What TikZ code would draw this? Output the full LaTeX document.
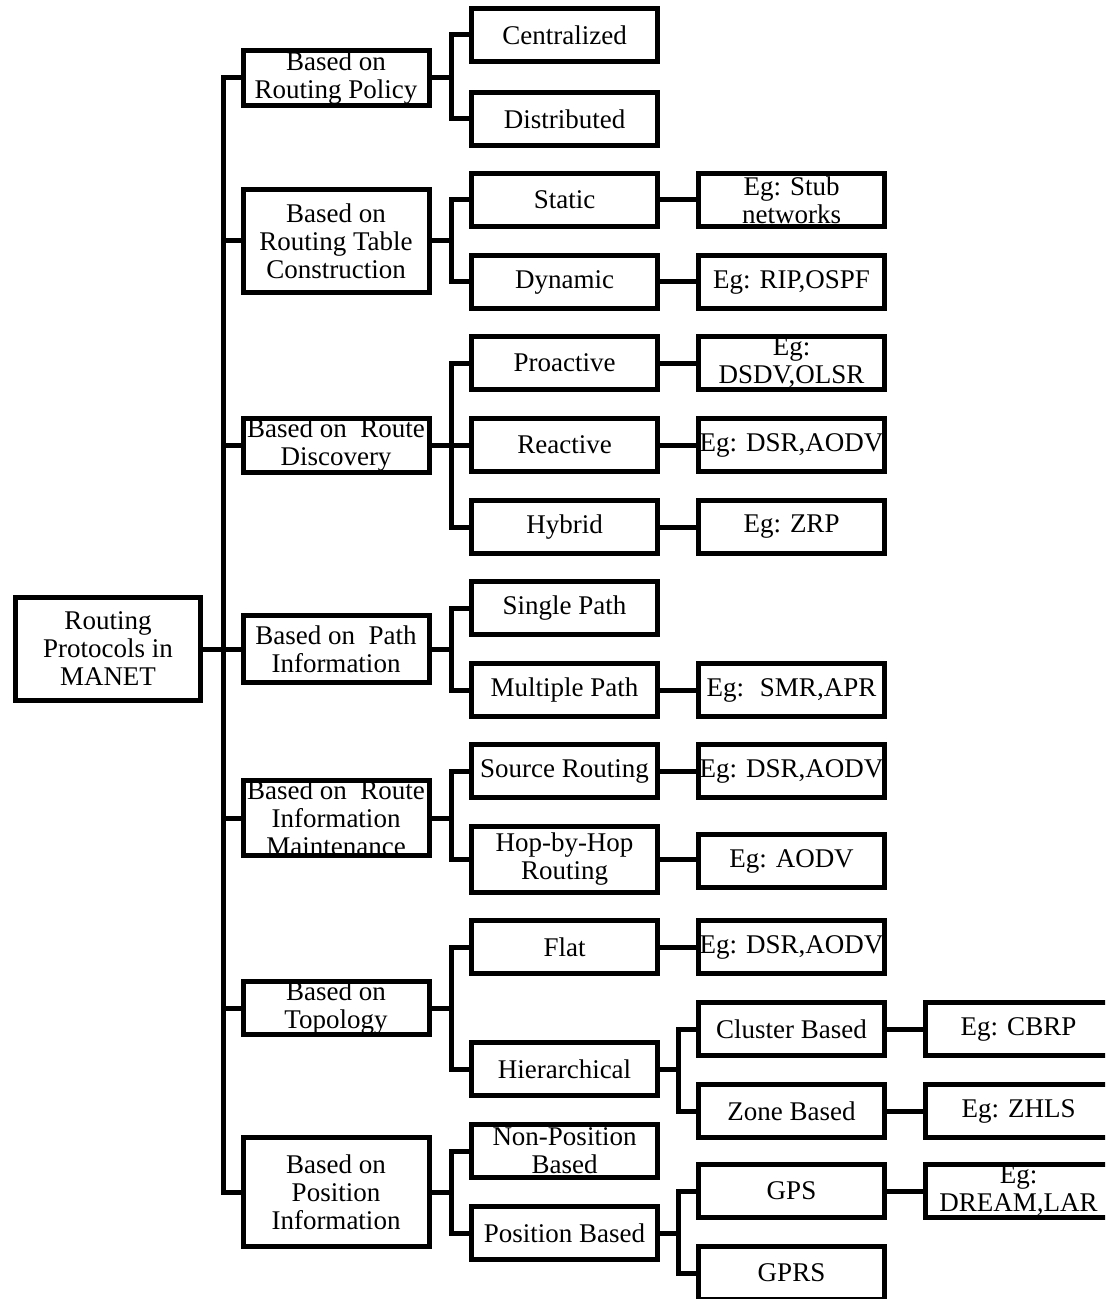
\documentclass[tikz,border=0pt]{standalone}
\usepackage{fontspec}
\setmainfont{Liberation Serif}
\usepackage{tikz}
\usetikzlibrary{calc}

\begin{document}
\begin{tikzpicture}
  [
    x=0.5pt, y=-0.5pt,
    box/.style={draw, line width=2.5pt, fill=white, inner sep=0pt,
      align=center, minimum width=93pt, minimum height=26.5pt,
      font=\fontsize{13.5}{14}\selectfont},
    link/.style={line width=2.5pt}
  ]
    \useasboundingbox (0,0) rectangle (1105,1299);
    \clip (0,0) rectangle (1105,1299);
    %\draw (0,0) rectangle (1105,1299);

    % root
    \node[box, minimum width=92.5pt, minimum height=51.5pt] (root) at (108,649) {Routing\\Protocols in\\MANET};

    % first level
    \node[box, minimum height=27.5pt] (pol) at (336,78) {Based on\\Routing Policy};
    \node[box, minimum height=51.5pt] (tab) at (336,241) {Based on\\Routing Table\\Construction};
    \node[box, minimum height=27pt] (dsc) at (336,445.5) {Based on~ Route\\Discovery};
    \node[box, minimum height=33.5pt] (pth) at (336,649) {Based on~ Path\\Information};
    \node[box, minimum height=37.5pt] (mnt) at (336,818) {Based on~ Route\\Information\\Maintenance};
    \node[box] (topo) at (336,1008) {Based on\\Topology};
    \node[box, minimum height=54.5pt] (pos) at (336,1192) {Based on\\Position\\Information};

    % second level
    \node[box] (cen) at (564.5,35) {Centralized};
    \node[box] (dis) at (564.5,119) {Distributed};
    \node[box] (sta) at (564.5,200) {Static};
    \node[box] (dyn) at (564.5,282) {Dynamic};
    \node[box] (pro) at (564.5,363) {Proactive};
    \node[box] (rea) at (564.5,445) {Reactive};
    \node[box] (hyb) at (564.5,527) {Hybrid};
    \node[box] (sgl) at (564.5,608) {Single Path};
    \node[box] (mul) at (564.5,690) {Multiple Path};
    \node[box] (src) at (564.5,771) {Source Routing};
    \node[box, minimum height=33pt] (hop) at (564.5,859) {Hop-by-Hop\\Routing};
    \node[box] (flt) at (564.5,947) {Flat};
    \node[box] (hie) at (564.5,1069) {Hierarchical};
    \node[box] (npo) at (564.5,1151) {Non-Position\\Based};
    \node[box] (pbs) at (564.5,1233) {Position Based};

    % third level
    \node[box] (egsta) at (791.5,200) {Eg: Stub\\networks};
    \node[box] (egdyn) at (791.5,282) {Eg: RIP,OSPF};
    \node[box] (egpro) at (791.5,363) {Eg:\\DSDV,OLSR};
    \node[box] (egrea) at (791.5,445) {Eg: DSR,AODV};
    \node[box] (eghyb) at (791.5,527) {Eg: ZRP};
    \node[box] (egmul) at (791.5,690) {Eg:~ SMR,APR};
    \node[box] (egsrc) at (791.5,771) {Eg: DSR,AODV};
    \node[box] (eghop) at (791.5,861) {Eg: AODV};
    \node[box] (egflt) at (791.5,947) {Eg: DSR,AODV};
    \node[box] (clu) at (791.5,1029) {Cluster Based};
    \node[box] (zon) at (791.5,1111) {Zone Based};
    \node[box] (gps) at (791.5,1191) {GPS};
    \node[box] (gprs) at (791.5,1273) {GPRS};

    % fourth level
    \node[box] (egclu) at (1018.5,1029) {Eg: CBRP};
    \node[box] (egzon) at (1018.5,1111) {Eg: ZHLS};
    \node[box] (eggps) at (1018.5,1191) {Eg:\\DREAM,LAR};

    % connectors
    \coordinate (trunk) at (223,0);
    \coordinate (j1) at (451,0);
    \coordinate (j2) at (678,0);
    \draw[link] (root.east) -- (root.east -| trunk);
    \foreach \c in {pol,tab,dsc,pth,mnt,topo,pos}
      \draw[link] (root.east -| trunk) |- (\c.west);
    \foreach \a/\b in {pol/cen,pol/dis,tab/sta,tab/dyn,dsc/pro,dsc/rea,dsc/hyb,
                       pth/sgl,pth/mul,mnt/src,mnt/hop,topo/flt,topo/hie,pos/npo,pos/pbs}
      \draw[link] (\a.east) -- (\a.east -| j1) |- (\b.west);
    \foreach \a/\b in {hie/clu,hie/zon,pbs/gps,pbs/gprs}
      \draw[link] (\a.east) -- (\a.east -| j2) |- (\b.west);
    \foreach \a/\b in {sta/egsta,dyn/egdyn,pro/egpro,rea/egrea,hyb/eghyb,mul/egmul,
                       src/egsrc,hop/eghop,flt/egflt,clu/egclu,zon/egzon,gps/eggps}
      \draw[link] (\a.east) -- (\a.east -| \b.west);
  \end{tikzpicture}
\end{document}
